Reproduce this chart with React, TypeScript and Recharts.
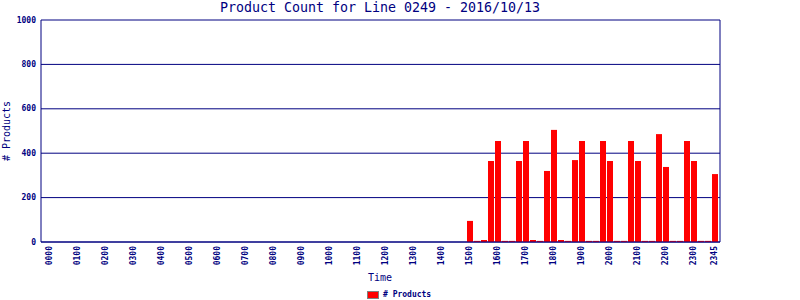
import { BarChart, Bar, XAxis, YAxis, CartesianGrid } from "recharts";

const hours = [
  "00", "01", "02", "03", "04", "05", "06", "07", "08", "09", "10", "11",
  "12", "13", "14", "15", "16", "17", "18", "19", "20", "21", "22", "23",
];
const quarters = ["00", "15", "30", "45"];

// one value per 15-minute slot, 4 hours per row
const counts = [
  0, 0, 0, 0, 0, 0, 0, 0, 0, 0, 0, 0, 0, 0, 0, 0, // 0000-0345
  0, 0, 0, 0, 0, 0, 0, 0, 0, 0, 0, 0, 0, 0, 0, 0, // 0400-0745
  0, 0, 0, 0, 0, 0, 0, 0, 0, 0, 0, 0, 0, 0, 0, 0, // 0800-1145
  0, 0, 0, 0, 0, 0, 0, 0, 0, 0, 0, 0, 95, 5, 9, 365, // 1200-1545
  455, 5, 5, 365, 455, 9, 5, 320, 505, 9, 5, 369, 455, 5, 5, 455, // 1600-1945
  365, 5, 5, 455, 365, 5, 5, 486, 338, 5, 5, 455, 365, 5, 5, 306, // 2000-2345
];

const timeTicks = [
  "0000", "0100", "0200", "0300", "0400", "0500", "0600", "0700", "0800",
  "0900", "1000", "1100", "1200", "1300", "1400", "1500", "1600", "1700",
  "1800", "1900", "2000", "2100", "2200", "2300", "2345",
];
const countTicks = [0, 200, 400, 600, 800, 1000];

const slots = hours.flatMap((h) => quarters.map((q) => h + q));
const data = slots.map((time, i) => ({ time, count: counts[i] }));

const NAVY = "#000080";
const MONO = "'DejaVu Sans Mono', monospace";

function TimeTick({ x, y, payload }: any) {
  return (
    <text
      x={x}
      y={y}
      transform={`rotate(-90, ${x}, ${y})`}
      textAnchor="end"
      dominantBaseline="central"
      fill={NAVY}
      fontFamily={MONO}
      fontWeight="bold"
      fontSize={8}
    >
      {payload.value}
    </text>
  );
}

function CountTick({ x, y, payload }: any) {
  return (
    <text
      x={x}
      y={y}
      textAnchor="end"
      dominantBaseline="central"
      fill={NAVY}
      fontFamily={MONO}
      fontWeight="bold"
      fontSize={8}
    >
      {payload.value}
    </text>
  );
}

export default function App() {
  return (
    <div style={{ position: "absolute", left: 0, top: 0, width: 800, height: 300, background: "#fff" }}>
      <BarChart
        width={800}
        height={300}
        data={data}
        margin={{ top: 20, right: 79, bottom: 0, left: 0 }}
      >
        <CartesianGrid vertical={false} stroke={NAVY} strokeWidth={1} />
        <XAxis
          dataKey="time"
          ticks={timeTicks}
          interval={0}
          height={58}
          padding={{ left: 5, right: 2 }}
          axisLine={{ stroke: NAVY }}
          tickLine={false}
          tickSize={0}
          tickMargin={4}
          tick={<TimeTick />}
        />
        <YAxis
          domain={[0, 1000]}
          ticks={countTicks}
          width={41}
          axisLine={{ stroke: NAVY }}
          tickLine={false}
          tickSize={0}
          tickMargin={5}
          tick={<CountTick />}
        />
        <YAxis
          yAxisId="border"
          orientation="right"
          width={1}
          domain={[0, 1000]}
          axisLine={{ stroke: NAVY }}
          tickLine={false}
          tick={false}
        />
        <Bar dataKey="count" fill="#ff0000" barSize={6} isAnimationActive={false} />
      </BarChart>

      <div
        style={{
          position: "absolute",
          left: 380,
          top: 8,
          transform: "translate(-50%, -50%)",
          whiteSpace: "nowrap",
          fontFamily: MONO,
          fontSize: 13.3,
          lineHeight: 1,
          color: NAVY,
        }}
      >
        Product Count for Line 0249 - 2016/10/13
      </div>

      <div
        style={{
          position: "absolute",
          left: 7,
          top: 131,
          transform: "translate(-50%, -50%) rotate(-90deg)",
          whiteSpace: "nowrap",
          fontFamily: MONO,
          fontSize: 10,
          lineHeight: 1,
          color: NAVY,
        }}
      >
        # Products
      </div>

      <div
        style={{
          position: "absolute",
          left: 380,
          top: 278,
          transform: "translate(-50%, -50%)",
          whiteSpace: "nowrap",
          fontFamily: MONO,
          fontSize: 10,
          lineHeight: 1,
          color: NAVY,
        }}
      >
        Time
      </div>

      <div
        style={{
          position: "absolute",
          left: 367,
          top: 291,
          display: "flex",
          alignItems: "center",
          gap: 4,
          fontFamily: MONO,
          fontWeight: "bold",
          fontSize: 8,
          lineHeight: 1,
          color: NAVY,
        }}
      >
        <span
          style={{
            width: 10,
            height: 6,
            background: "#ff0000",
            border: "1px solid #808080",
            display: "inline-block",
          }}
        />
        <span># Products</span>
      </div>
    </div>
  );
}
